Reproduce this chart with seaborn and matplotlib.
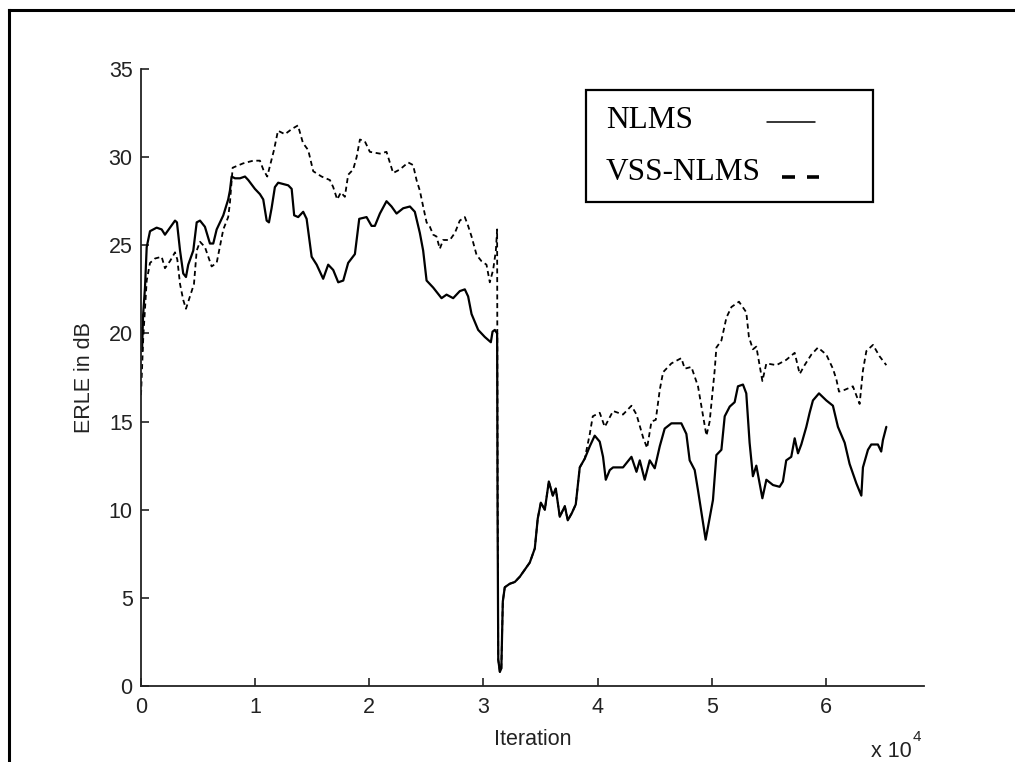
import numpy as np
import pandas as pd
import seaborn as sns
import matplotlib
matplotlib.use("Agg")
import matplotlib.pyplot as plt
from matplotlib import font_manager
from matplotlib.lines import Line2D
from matplotlib.patches import Rectangle

# ERLE traces, iteration axis in units of 10^4
nlms_iter = [
    0.000, 0.009, 0.018, 0.035, 0.050, 0.079, 0.137, 0.181, 0.210, 0.254,
    0.298, 0.315, 0.342, 0.370, 0.394, 0.414, 0.458, 0.488, 0.517, 0.560,
    0.604, 0.633, 0.663, 0.721, 0.764, 0.779, 0.794, 0.823, 0.867, 0.911,
    0.940, 0.998, 1.042, 1.071, 1.101, 1.121, 1.144, 1.173, 1.202, 1.290,
    1.320, 1.342, 1.377, 1.421, 1.451, 1.495, 1.539, 1.596, 1.640, 1.684,
    1.728, 1.772, 1.815, 1.874, 1.912, 1.976, 2.020, 2.049, 2.093, 2.151,
    2.195, 2.239, 2.297, 2.356, 2.399, 2.443, 2.472, 2.502, 2.560, 2.633,
    2.677, 2.735, 2.793, 2.837, 2.866, 2.896, 2.954, 3.012, 3.065, 3.080,
    3.100, 3.120, 3.124, 3.130, 3.144, 3.157, 3.170, 3.187, 3.231, 3.275,
    3.319, 3.363, 3.406, 3.450, 3.476, 3.503, 3.538, 3.573, 3.608, 3.634,
    3.669, 3.713, 3.739, 3.774, 3.809, 3.844, 3.888, 3.932, 3.975, 4.019,
    4.048, 4.072, 4.107, 4.136, 4.223, 4.297, 4.341, 4.370, 4.413, 4.457,
    4.501, 4.545, 4.588, 4.647, 4.734, 4.778, 4.807, 4.851, 4.880, 4.947,
    5.011, 5.041, 5.085, 5.114, 5.158, 5.201, 5.230, 5.274, 5.303, 5.332,
    5.361, 5.391, 5.420, 5.444, 5.479, 5.537, 5.595, 5.624, 5.653, 5.697,
    5.727, 5.756, 5.785, 5.829, 5.858, 5.887, 5.940, 6.004, 6.062, 6.106,
    6.165, 6.208, 6.267, 6.311, 6.325, 6.369, 6.398, 6.456, 6.485, 6.500,
    6.530,
]
nlms_erle = [
    20.3, 19.0, 21.0, 22.6, 24.9, 25.8, 26.0, 25.9, 25.6, 26.0,
    26.4, 26.3, 24.7, 23.4, 23.2, 23.9, 24.7, 26.3, 26.4, 26.05,
    25.1, 25.1, 25.9, 26.7, 27.6, 28.1, 28.9, 28.8, 28.8, 28.9,
    28.7, 28.2, 27.9, 27.6, 26.4, 26.3, 27.1, 28.3, 28.55, 28.4,
    28.2, 26.7, 26.6, 26.9, 26.5, 24.35, 23.9, 23.1, 23.9, 23.6,
    22.9, 23.0, 24.0, 24.5, 26.5, 26.6, 26.1, 26.1, 26.8, 27.5,
    27.2, 26.8, 27.1, 27.2, 26.9, 25.7, 24.7, 23.0, 22.6, 22.0,
    22.2, 22.0, 22.4, 22.5, 22.1, 21.1, 20.2, 19.8, 19.5, 20.1,
    20.2, 20.0, 10.0, 1.5, 0.8, 1.0, 4.8, 5.6, 5.8, 5.9,
    6.2, 6.6, 7.0, 7.8, 9.5, 10.4, 10.0, 11.6, 10.8, 11.2,
    9.6, 10.2, 9.4, 9.8, 10.3, 12.4, 12.9, 13.6, 14.2, 13.86,
    13.0, 11.7, 12.25, 12.4, 12.4, 13.0, 12.15, 12.8, 11.7, 12.8,
    12.35, 13.6, 14.6, 14.9, 14.9, 14.3, 12.8, 12.25, 11.1, 8.3,
    10.55, 13.1, 13.4, 15.3, 15.85, 16.1, 17.0, 17.1, 16.6, 13.8,
    11.9, 12.5, 11.5, 10.65, 11.7, 11.4, 11.3, 11.6, 12.8, 13.0,
    14.05, 13.2, 13.7, 14.7, 15.5, 16.2, 16.6, 16.2, 15.9, 14.7,
    13.8, 12.6, 11.5, 10.8, 12.4, 13.4, 13.7, 13.7, 13.3, 13.95,
    14.7,
]

vss_iter = [
    0.000, 0.009, 0.020, 0.050, 0.079, 0.123, 0.181, 0.210, 0.254, 0.298,
    0.318, 0.342, 0.370, 0.394, 0.429, 0.464, 0.488, 0.517, 0.560, 0.619,
    0.663, 0.721, 0.764, 0.779, 0.803, 0.896, 0.983, 1.042, 1.071, 1.106,
    1.130, 1.165, 1.200, 1.261, 1.322, 1.375, 1.419, 1.465, 1.509, 1.582,
    1.655, 1.684, 1.719, 1.751, 1.786, 1.815, 1.859, 1.889, 1.918, 1.961,
    2.005, 2.093, 2.151, 2.209, 2.268, 2.341, 2.384, 2.414, 2.443, 2.472,
    2.502, 2.531, 2.560, 2.589, 2.618, 2.647, 2.706, 2.750, 2.793, 2.837,
    2.866, 2.896, 2.940, 2.983, 3.027, 3.056, 3.085, 3.109, 3.120, 3.124,
    3.130, 3.144, 3.157, 3.170, 3.187, 3.231, 3.275, 3.319, 3.363, 3.406,
    3.450, 3.476, 3.503, 3.538, 3.573, 3.608, 3.634, 3.669, 3.713, 3.739,
    3.774, 3.809, 3.844, 3.888, 3.932, 3.958, 4.019, 4.063, 4.136, 4.223,
    4.297, 4.341, 4.399, 4.434, 4.472, 4.510, 4.545, 4.574, 4.647, 4.734,
    4.764, 4.822, 4.880, 4.910, 4.954, 4.982, 5.026, 5.041, 5.085, 5.129,
    5.173, 5.239, 5.303, 5.326, 5.361, 5.391, 5.420, 5.444, 5.479, 5.567,
    5.653, 5.727, 5.771, 5.814, 5.873, 5.931, 6.004, 6.062, 6.092, 6.115,
    6.165, 6.237, 6.272, 6.296, 6.325, 6.355, 6.413, 6.471, 6.530,
]
vss_erle = [
    16.5, 18.0, 19.8, 23.0, 24.0, 24.25, 24.35, 23.7, 24.1, 24.6,
    24.2, 22.8, 21.9, 21.4, 22.1, 22.8, 24.7, 25.2, 24.9, 23.8,
    24.0, 25.9, 26.6, 27.4, 29.4, 29.65, 29.8, 29.8, 29.3, 28.9,
    29.5, 30.4, 31.5, 31.3, 31.6, 31.8, 30.8, 30.4, 29.2, 28.9,
    28.7, 28.3, 27.6, 28.0, 27.75, 29.0, 29.3, 30.0, 31.0, 30.9,
    30.3, 30.2, 30.3, 29.1, 29.3, 29.7, 29.55, 28.7, 28.1, 27.2,
    26.3, 26.05, 25.6, 25.5, 24.8, 25.3, 25.3, 25.7, 26.4, 26.6,
    26.1, 25.5, 24.45, 24.1, 23.9, 22.9, 23.6, 24.7, 25.9, 12.0,
    1.5, 0.8, 1.0, 4.8, 5.6, 5.8, 5.9, 6.2, 6.6, 7.0,
    7.8, 9.5, 10.4, 10.0, 11.6, 10.8, 11.2, 9.6, 10.2, 9.4,
    9.8, 10.3, 12.4, 12.9, 14.3, 15.3, 15.5, 14.7, 15.6, 15.4,
    15.9, 15.4, 14.1, 13.5, 15.0, 15.1, 16.8, 17.8, 18.3, 18.6,
    18.0, 18.1, 17.0, 15.85, 14.2, 15.0, 17.9, 19.2, 19.6, 20.9,
    21.5, 21.8, 21.2, 19.8, 19.1, 19.25, 18.2, 17.3, 18.3, 18.2,
    18.5, 18.9, 17.7, 18.2, 18.8, 19.2, 18.8, 18.0, 17.4, 16.7,
    16.8, 17.0, 16.4, 16.0, 17.9, 19.0, 19.35, 18.7, 18.2,
]

series_names = ["NLMS", "VSS-NLMS"]
x_ticks = [0, 1, 2, 3, 4, 5, 6]
y_ticks = [0, 5, 10, 15, 20, 25, 30, 35]

nlms_df = pd.DataFrame({"Iteration": nlms_iter, "ERLE": nlms_erle})
vss_df = pd.DataFrame({"Iteration": vss_iter, "ERLE": vss_erle})

sns.set_style("ticks")
installed = {f.name for f in font_manager.fontManager.ttflist}
sans = "Liberation Sans" if "Liberation Sans" in installed else "DejaVu Sans"
serif = "Liberation Serif" if "Liberation Serif" in installed else "DejaVu Serif"
plt.rcParams["font.family"] = [sans, "DejaVu Sans"]

W, H = 1015, 762
fig = plt.figure(figsize=(W / 100, H / 100), dpi=100, facecolor="white")


def fx(px):
    return px / W


def fy(py):
    return 1 - py / H


ax = fig.add_axes([fx(141), fy(686), (924 - 141) / W, (686 - 69) / H])
ax.set_facecolor("white")

# dashed trace first so the solid one sits on top where they coincide
sns.lineplot(data=vss_df, x="Iteration", y="ERLE", ax=ax, color="black",
             linewidth=1.3, estimator=None, sort=False)
ax.lines[0].set_linestyle((0, (2.8, 2.0)))
sns.lineplot(data=nlms_df, x="Iteration", y="ERLE", ax=ax, color="black",
             linewidth=1.6, estimator=None, sort=False)

ax.set_xlim(0, 6.86)
ax.set_ylim(0, 35)
ax.set_xticks(x_ticks)
ax.set_yticks(y_ticks)
ax.set_xticklabels([str(t) for t in x_ticks])
ax.set_yticklabels([str(t) for t in y_ticks])
for side in ("top", "right"):
    ax.spines[side].set_visible(False)
for side in ("left", "bottom"):
    ax.spines[side].set_color("#222222")
    ax.spines[side].set_linewidth(1.3)
ax.tick_params(direction="in", length=6, width=1.2, color="#222222",
               labelsize=15.5, labelcolor="#222222")
ax.tick_params(axis="x", pad=8)
ax.tick_params(axis="y", pad=6)
ax.set_xlabel("Iteration", fontsize=15.5, color="#222222", labelpad=8)
ax.set_ylabel("ERLE in dB", fontsize=15.5, color="#222222", labelpad=10)

# axis multiplier
fig.text(fx(912), fy(757), "x 10", fontsize=15.5, color="#222222",
         ha="right", va="baseline")
fig.text(fx(913), fy(741), "4", fontsize=11, color="#222222",
         ha="left", va="baseline")

# legend box drawn as a framed text panel
fig.add_artist(Rectangle((fx(586), fy(202)), (873 - 586) / W, (202 - 90) / H,
                         transform=fig.transFigure, fill=False,
                         edgecolor="black", linewidth=1.6))
fig.text(fx(606), fy(120), series_names[0], family=serif, fontsize=22.5,
         color="black", ha="left", va="center")
fig.text(fx(606), fy(173), series_names[1], family=serif, fontsize=22.5,
         color="black", ha="left", va="center")
fig.add_artist(Line2D([fx(767), fx(815)], [fy(122), fy(122)],
                      transform=fig.transFigure, color="black", linewidth=1.1))
for a, b in ((782, 795), (807, 819)):
    fig.add_artist(Line2D([fx(a), fx(b)], [fy(177), fy(177)],
                          transform=fig.transFigure, color="black",
                          linewidth=2.6, solid_capstyle="butt"))

# outer frame (left and top edges)
fig.add_artist(Line2D([fx(9), fx(9)], [fy(10), 0], transform=fig.transFigure,
                      color="black", linewidth=2.2, solid_capstyle="projecting"))
fig.add_artist(Line2D([fx(9), 1], [fy(10), fy(10)], transform=fig.transFigure,
                      color="black", linewidth=2.2, solid_capstyle="projecting"))

fig.savefig("out.png", dpi=100, facecolor="white")
